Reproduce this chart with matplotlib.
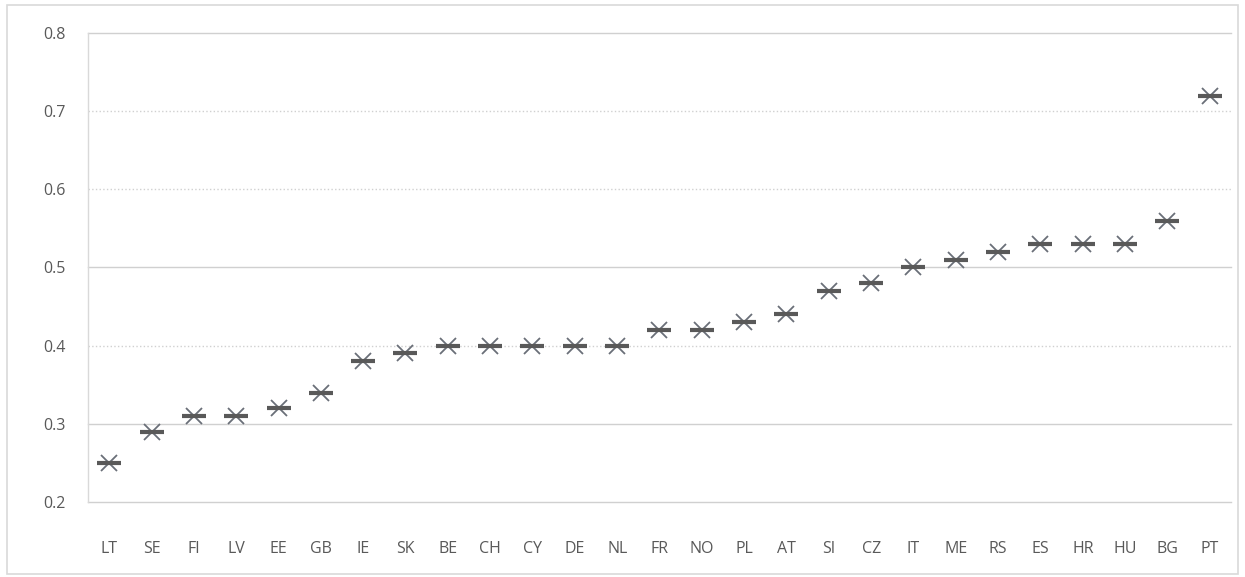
import matplotlib
matplotlib.use("Agg")
import matplotlib.pyplot as plt
from matplotlib.patches import Rectangle

countries = ["LT", "SE", "FI", "LV", "EE", "GB", "IE", "SK", "BE", "CH", "CY", "DE", "NL",
             "FR", "NO", "PL", "AT", "SI", "CZ", "IT", "ME", "RS", "ES", "HR", "HU", "BG", "PT"]
values = [0.25, 0.29, 0.31, 0.31, 0.32, 0.34, 0.38, 0.39, 0.40, 0.40, 0.40, 0.40, 0.40,
          0.42, 0.42, 0.43, 0.44, 0.47, 0.48, 0.50, 0.51, 0.52, 0.53, 0.53, 0.53, 0.56, 0.72]
yticks = [0.2, 0.3, 0.4, 0.5, 0.6, 0.7, 0.8]
grid_styles = ["-", "-", ":", "-", ":", ":", "-"]

plt.rcParams['font.family'] = ['Open Sans', 'DejaVu Sans']

fig = plt.figure(figsize=(12.45, 5.77), dpi=100)
ax = fig.add_axes([0.0707, 0.13, 0.918, 0.8128])

# outer chart border
fig.patches.append(Rectangle((0.006, 0.006), 0.988, 0.985, transform=fig.transFigure,
                             fill=False, edgecolor="#d9d9d9", linewidth=1.2))

x = list(range(len(countries)))
for y, ls in zip(yticks, grid_styles):
    ax.axhline(y, color="#d0d0d0", linewidth=1.0, linestyle=ls, zorder=1, clip_on=False)

ax.plot(x, values, linestyle="none", marker="x", markersize=12, markeredgewidth=1.3,
        color="#6a6f78", zorder=3)
ax.plot(x, values, linestyle="none", marker="_", markersize=17, markeredgewidth=3,
        color="#595959", zorder=4)

ax.set_xlim(-0.5, len(countries) - 0.5)
ax.set_ylim(0.2, 0.8)
ax.set_yticks(yticks)
ax.set_yticklabels([f"{v:.1f}" for v in yticks])
ax.set_xticks(x)
ax.set_xticklabels(countries)

for s in ["top", "right", "bottom"]:
    ax.spines[s].set_visible(False)
ax.spines["left"].set_color("#d9d9d9")
ax.spines["left"].set_linewidth(1.0)

ax.tick_params(axis="both", length=0, labelsize=11.5, colors="#595959")
ax.tick_params(axis="y", pad=16)
ax.tick_params(axis="x", pad=28)

fig.savefig("out.png", dpi=100)
